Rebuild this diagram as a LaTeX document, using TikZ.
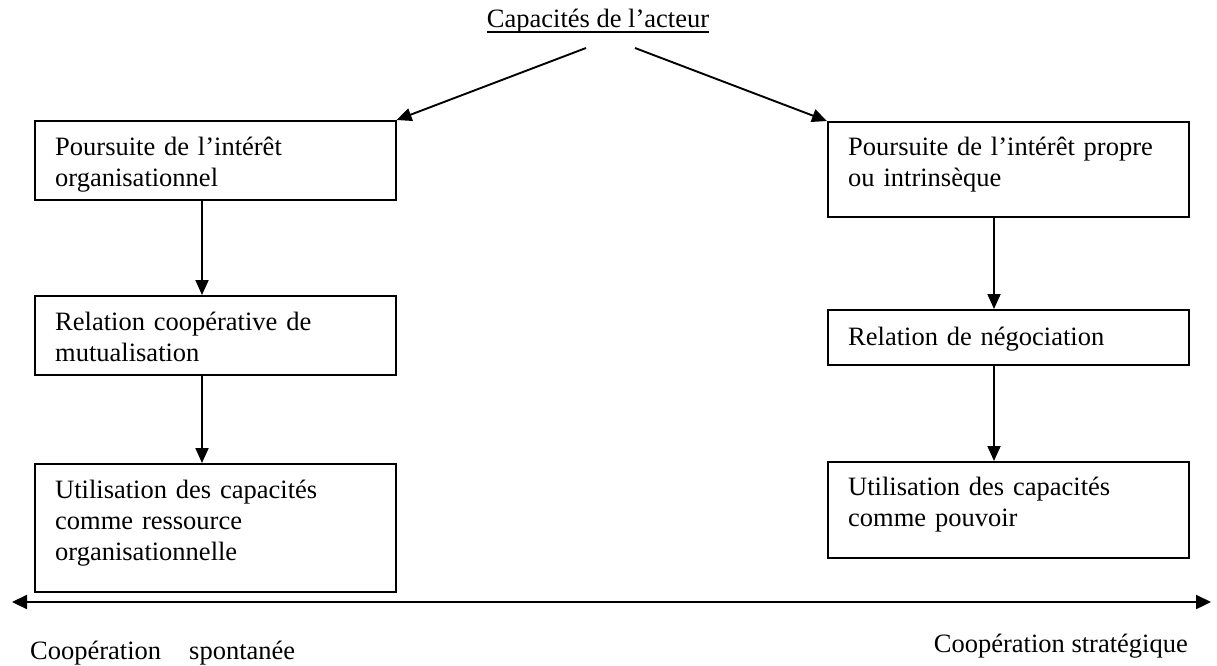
\documentclass[tikz,border=0pt]{standalone}
\usepackage{fontspec}
\setmainfont{Liberation Serif}
\usetikzlibrary{arrows.meta}
\begin{document}
\begin{tikzpicture}[x=1pt,y=-1pt,
  box/.style={draw, line width=1.6pt, inner sep=0pt, anchor=north west, minimum width=361pt},
  txt/.style={anchor=base west, inner sep=0pt, text width=340pt, align=left, font=\fontsize{26.5}{31}\selectfont},
  conn/.style={line width=1.9pt, -{Triangle[length=15pt,width=13pt]}},
  axis/.style={line width=2.2pt, {Triangle[length=15pt,width=14pt]}-{Triangle[length=15pt,width=14pt]}}]
\useasboundingbox (0,0) rectangle (1217,665);
% title
\node[anchor=base, inner sep=0pt, font=\fontsize{26.5}{31}\selectfont] (title) at (598,27) {Capacités de l’acteur};
\draw[line width=1.5pt] ([yshift=-5pt]title.base west) -- ([yshift=-5pt]title.base east);
% boxes
\node[box, minimum height=79pt] (L1) at (34,120) {};
\node[box, minimum height=79pt] (L2) at (34,295) {};
\node[box, minimum height=128pt] (L3) at (34,463) {};
\node[box, minimum height=95pt] (R1) at (827,121) {};
\node[box, minimum height=55pt] (R2) at (827,309) {};
\node[box, minimum height=96pt] (R3) at (827,461) {};
% texts
\node[txt] (tL1) at ([shift={(21,35)}]L1.north west) {Poursuite de l’intérêt\\organisationnel};
\node[txt] (tL2) at ([shift={(21,35)}]L2.north west) {Relation coopérative de\\mutualisation};
\node[txt] (tL3) at ([shift={(21,35)}]L3.north west) {Utilisation des capacités\\comme ressource\\organisationnelle};
\node[txt] (tR1) at ([shift={(21,34)}]R1.north west) {Poursuite de l’intérêt propre\\ou intrinsèque};
\node[txt] (tR2) at ([shift={(21,36)}]R2.north west) {Relation de négociation};
\node[txt] (tR3) at ([shift={(21,34)}]R3.north west) {Utilisation des capacités\\comme pouvoir};
% connectors from title
\coordinate (tsL) at ([shift={(-12,21)}]title.base);
\coordinate (tsR) at ([shift={(37,21)}]title.base);
\draw[conn] (tsL) -- (L1.north east);
\draw[conn] (tsR) -- (R1.north west);
% vertical connectors
\draw[conn] ([xshift=168pt]L1.south west) -- ([xshift=168pt]L2.north west);
\draw[conn] ([xshift=168pt]L2.south west) -- ([xshift=168pt]L3.north west);
\draw[conn] ([xshift=167pt]R1.south west) -- ([xshift=167pt]R2.north west);
\draw[conn] ([xshift=167pt]R2.south west) -- ([xshift=167pt]R3.north west);
% axis
\coordinate (axL) at (12,602);
\coordinate (axR) at (1211,602);
\draw[axis] (axL) -- (axR);
\node[anchor=base west, inner sep=0pt, font=\fontsize{26.5}{31}\selectfont] (spont) at (30,659) {Coopération\hspace{28pt}spontanée};
\node[anchor=base east, inner sep=0pt, font=\fontsize{26.5}{31}\selectfont] (strat) at (1188,652) {Coopération stratégique};
\end{tikzpicture}
\end{document}
